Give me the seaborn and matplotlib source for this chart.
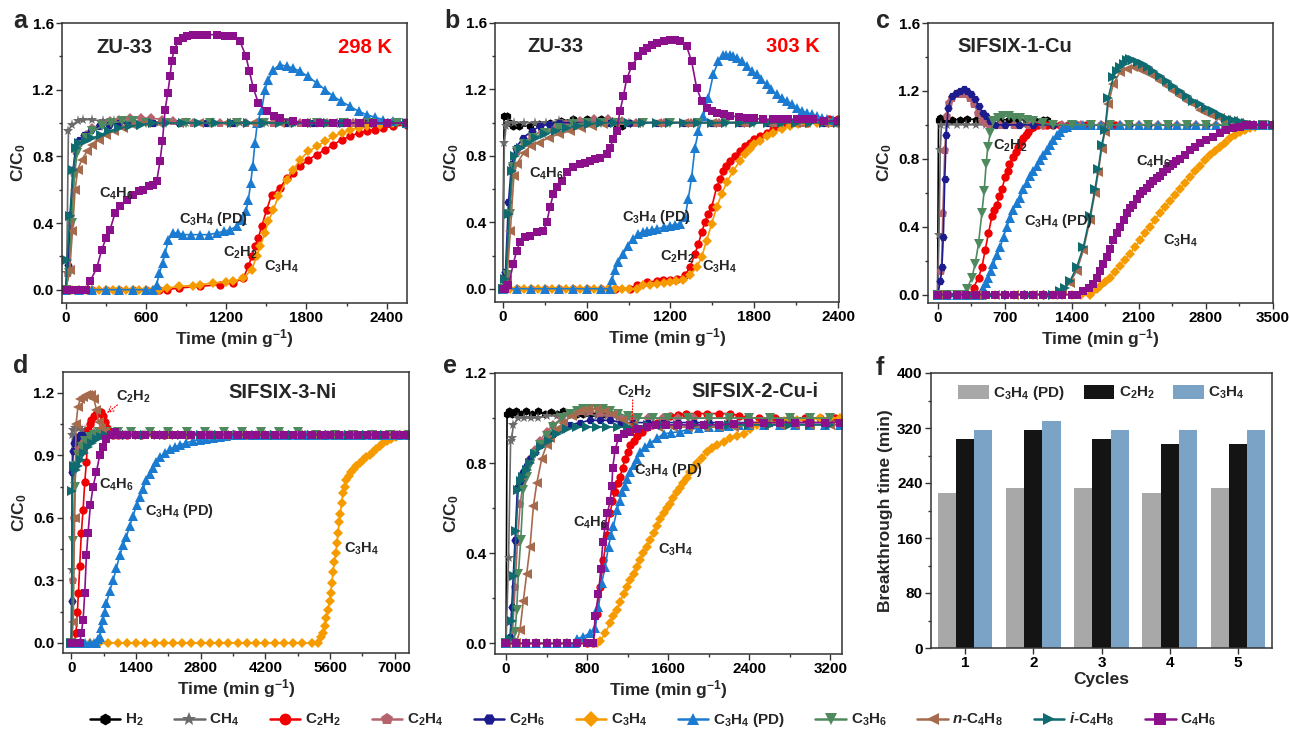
import numpy as np
import pandas as pd
import matplotlib
matplotlib.use('Agg')
import matplotlib.pyplot as plt
import seaborn as sns
from matplotlib.lines import Line2D
from matplotlib.ticker import MultipleLocator, FormatStrFormatter

# ---------------- DATA (time in min/g, C/C0) ----------------
# Panel a : ZU-33, 298 K
a_CH4 = [(0,0),(7,0.10),(20,0.95),(45,0.99),(90,1.01),(130,1.02),(200,1.02),(280,1.01),(360,1.01),(450,1.0),(550,1.0),(700,1.0),(900,1.0),(1100,1.0),(1300,1.0),(1500,1.0),(1700,1.0),(1900,1.0),(2100,1.0),(2300,1.0),(2500,1.0)]
a_C2H2 = [(0,0),(100,0),(200,0),(300,0),(400,0),(500,0),(600,0),(700,0),(755,0.0),(850,0.01),(1004,0.02),(1150,0.03),(1253,0.04),(1328,0.07),(1366,0.14),(1391,0.20),(1415,0.26),(1440,0.31),(1465,0.38),(1503,0.48),(1540,0.57),(1602,0.61),(1652,0.67),(1702,0.70),(1752,0.74),(1815,0.78),(1876,0.81),(1940,0.84),(2001,0.87),(2065,0.90),(2126,0.92),(2190,0.94),(2250,0.95),(2310,0.96),(2375,0.97),(2450,0.98),(2549,0.99)]
a_C2H4 = [(0,0),(20,0.10),(40,0.40),(60,0.70),(80,0.83),(100,0.88),(150,0.93),(200,0.97),(260,0.99),(330,1.01),(400,1.02),(480,1.03),(560,1.03),(640,1.03),(720,1.02),(800,1.01),(950,1.0),(1150,1.0),(1350,1.0),(1550,1.0),(1750,1.0),(1950,1.0),(2150,1.0),(2350,1.0),(2540,1.0)]
a_C2H6 = [(0,0),(15,0.15),(35,0.45),(55,0.72),(75,0.86),(100,0.90),(140,0.93),(190,0.96),(250,0.98),(320,0.99),(400,1.0),(500,1.0),(650,1.0),(850,1.0),(1050,1.0),(1250,1.0),(1450,1.0),(1650,1.0),(1850,1.0),(2050,1.0),(2250,1.0),(2450,1.0)]
a_C3H4 = [(0,0),(50,0),(100,0),(150,0),(200,0),(250,0),(300,0),(350,0),(400,0),(450,0),(500,0),(550,0),(600,0),(650,0),(700,0),(755,0.01),(850,0.02),(950,0.025),(1004,0.03),(1100,0.04),(1200,0.045),(1253,0.05),(1328,0.07),(1391,0.12),(1428,0.20),(1453,0.26),(1490,0.34),(1515,0.41),(1553,0.48),(1590,0.56),(1652,0.66),(1702,0.72),(1752,0.78),(1815,0.83),(1876,0.86),(1940,0.89),(2001,0.92),(2065,0.94),(2126,0.96),(2190,0.97),(2250,0.98),(2350,0.99),(2450,1.0),(2549,1.0)]
a_C3H4PD = [(0,0),(100,0),(200,0),(300,0),(400,0),(500,0),(600,0),(655,0.0),(680,0.03),(700,0.10),(725,0.16),(743,0.22),(768,0.30),(805,0.34),(840,0.34),(880,0.33),(940,0.33),(1004,0.33),(1070,0.33),(1129,0.34),(1180,0.35),(1229,0.36),(1278,0.38),(1316,0.42),(1348,0.47),(1366,0.54),(1383,0.64),(1398,0.74),(1415,0.88),(1433,1.00),(1465,1.08),(1490,1.20),(1515,1.26),(1553,1.32),(1602,1.35),(1652,1.34),(1700,1.33),(1752,1.31),(1810,1.28),(1876,1.24),(1940,1.20),(2001,1.16),(2060,1.13),(2126,1.10),(2190,1.07),(2250,1.05),(2310,1.035),(2375,1.02),(2450,1.01),(2549,1.0)]
a_C3H6 = [(0,0),(25,0.10),(45,0.40),(65,0.68),(85,0.82),(110,0.87),(150,0.91),(200,0.95),(270,0.98),(340,1.0),(420,1.01),(500,1.01),(600,1.0),(750,1.0),(900,1.0),(1080,1.0),(1280,1.0),(1480,1.0),(1680,1.0),(1880,1.0),(2080,1.0),(2280,1.0),(2480,1.0)]
a_nC4H8 = [(0,0),(30,0.12),(50,0.35),(70,0.60),(90,0.72),(120,0.78),(160,0.83),(200,0.87),(250,0.90),(300,0.93),(360,0.95),(430,0.97),(500,0.99),(600,1.0),(700,1.0),(850,1.0),(1000,1.0),(1200,1.0),(1400,1.0),(1600,1.0),(1800,1.0),(2000,1.0),(2200,1.0),(2400,1.0)]
a_iC4H8 = [(0,0),(10,0.18),(30,0.44),(55,0.72),(80,0.85),(100,0.88),(150,0.89),(200,0.91),(260,0.93),(320,0.95),(400,0.97),(480,0.98),(560,0.99),(650,1.0),(760,1.0),(880,1.0),(1000,1.0),(1120,1.0),(1240,1.0),(1360,1.0),(1480,1.0),(1600,1.0),(1720,1.0),(1840,1.0),(1960,1.0),(2080,1.0),(2200,1.0),(2320,1.0),(2440,1.0),(2550,1.0)]
a_C4H6 = [(0,0),(40,0),(80,0),(120,0),(150,0.0),(182,0.05),(232,0.13),(269,0.24),(302,0.31),(331,0.36),(369,0.46),(406,0.50),(456,0.54),(506,0.57),(545,0.59),(581,0.60),(620,0.62),(655,0.63),(680,0.65),(705,0.77),(723,0.89),(743,1.08),(763,1.18),(780,1.28),(792,1.37),(810,1.44),(842,1.49),(875,1.51),(905,1.52),(950,1.53),(1004,1.53),(1060,1.53),(1129,1.53),(1190,1.525),(1253,1.52),(1303,1.49),(1348,1.40),(1373,1.31),(1403,1.21),(1440,1.12),(1503,1.07),(1560,1.04),(1602,1.03),(1702,1.01),(1800,1.0),(1900,1.0),(2001,1.0),(2100,1.0),(2200,1.0),(2300,1.0),(2400,1.0),(2549,1.0)]

# Panel b : ZU-33, 303 K
b_H2 = [(0,0),(10,1.04),(29,1.04),(50,1.0),(76,0.98),(120,0.98),(195,0.98),(260,0.99),(340,1.0),(420,1.01),(500,1.02),(600,1.02),(700,1.02),(780,1.01),(815,0.98),(850,0.98),(910,1.0)]
b_CH4 = [(0,0),(12,0.88),(25,0.98),(40,1.0),(80,1.0),(150,1.0),(230,1.0),(310,1.0),(400,1.01),(500,1.01),(600,1.0),(700,1.0),(800,1.0),(900,1.0)]
b_C2H2 = [(0,0),(100,0),(200,0),(300,0),(400,0),(500,0),(600,0),(700,0),(800,0),(910,0.0),(958,0.02),(1029,0.04),(1100,0.045),(1149,0.05),(1200,0.055),(1244,0.06),(1304,0.08),(1339,0.13),(1375,0.21),(1399,0.27),(1423,0.34),(1446,0.40),(1470,0.45),(1494,0.49),(1530,0.61),(1555,0.66),(1578,0.71),(1600,0.74),(1625,0.77),(1660,0.80),(1697,0.83),(1730,0.86),(1768,0.88),(1800,0.90),(1840,0.92),(1890,0.94),(1935,0.96),(2000,0.98),(2054,0.99),(2110,1.0),(2173,1.0),(2250,1.01),(2330,1.02),(2400,1.02)]
b_C2H4 = [(0,0),(25,0.08),(45,0.45),(70,0.72),(100,0.83),(150,0.88),(210,0.92),(280,0.95),(360,0.97),(450,0.99),(550,1.01),(650,1.02),(750,1.02),(850,1.01),(950,1.0),(1150,1.0),(1350,1.0),(1550,1.0),(1750,1.0),(1950,1.0),(2150,1.0),(2350,1.0)]
b_C2H6 = [(0,0),(20,0.1),(41,0.52),(64,0.75),(95,0.85),(148,0.91),(210,0.95),(267,0.98),(330,0.99),(400,1.0),(500,1.0),(600,1.0),(750,1.0),(900,1.0),(1100,1.0),(1300,1.0),(1500,1.0),(1700,1.0),(1900,1.0),(2100,1.0),(2300,1.0),(2400,1.0)]
b_C3H4 = [(0,0),(50,0),(100,0),(150,0),(200,0),(250,0),(300,0),(350,0),(400,0),(450,0),(500,0),(550,0),(600,0),(650,0),(700,0),(750,0),(800,0),(850,0),(900,0),(958,0.0),(1006,0.02),(1050,0.025),(1101,0.03),(1150,0.035),(1196,0.04),(1240,0.045),(1292,0.05),(1339,0.08),(1387,0.13),(1423,0.19),(1458,0.29),(1494,0.39),(1530,0.49),(1566,0.57),(1601,0.64),(1649,0.71),(1697,0.77),(1730,0.81),(1768,0.84),(1800,0.87),(1840,0.89),(1890,0.92),(1935,0.94),(2000,0.96),(2054,0.98),(2110,0.99),(2173,1.0),(2250,1.0),(2330,1.0),(2400,1.0)]
b_C3H4PD = [(0,0),(100,0),(200,0),(300,0),(400,0),(500,0),(600,0),(700,0),(767,0.0),(779,0.05),(803,0.11),(827,0.16),(863,0.21),(898,0.26),(934,0.30),(970,0.33),(1000,0.34),(1029,0.35),(1065,0.355),(1101,0.36),(1150,0.37),(1196,0.38),(1235,0.385),(1268,0.39),(1304,0.43),(1327,0.54),(1351,0.67),(1375,0.85),(1400,0.95),(1435,1.04),(1470,1.15),(1506,1.29),(1542,1.37),(1578,1.41),(1600,1.41),(1625,1.41),(1650,1.40),(1673,1.39),(1710,1.37),(1744,1.34),(1780,1.31),(1816,1.29),(1850,1.26),(1887,1.23),(1920,1.20),(1959,1.17),(1995,1.15),(2030,1.13),(2066,1.11),(2102,1.09),(2140,1.07),(2173,1.06),(2210,1.05),(2245,1.04),(2280,1.03),(2316,1.02),(2360,1.015),(2400,1.01)]
b_C3H6 = [(0,0),(30,0.08),(50,0.45),(75,0.73),(105,0.83),(150,0.87),(220,0.91),(300,0.94),(400,0.97),(500,0.99),(600,1.0),(700,1.0),(820,1.0),(1000,1.0),(1200,1.0),(1400,1.0),(1600,1.0),(1800,1.0),(2000,1.0),(2200,1.0),(2390,1.0)]
b_nC4H8 = [(0,0),(30,0.05),(55,0.35),(80,0.68),(100,0.75),(150,0.82),(200,0.86),(260,0.88),(330,0.91),(400,0.93),(480,0.95),(560,0.97),(640,0.98),(720,0.99),(800,1.0),(950,1.0),(1100,1.0),(1300,1.0),(1500,1.0),(1700,1.0),(1900,1.0),(2100,1.0),(2300,1.0)]
b_iC4H8 = [(0,0),(20,0.06),(45,0.45),(65,0.71),(90,0.80),(130,0.85),(180,0.88),(240,0.91),(300,0.93),(380,0.95),(460,0.97),(540,0.98),(620,0.99),(700,1.0),(800,1.0),(900,1.0),(1000,1.0),(1100,1.0),(1200,1.0),(1300,1.0),(1400,1.0),(1500,1.0),(1600,1.0),(1700,1.0),(1800,1.0),(1900,1.0),(2000,1.0),(2100,1.0),(2200,1.0),(2300,1.0),(2400,1.0)]
b_C4H6 = [(0,0),(20,0.0),(41,0.02),(76,0.15),(100,0.23),(124,0.28),(160,0.31),(195,0.32),(243,0.34),(291,0.35),(315,0.40),(338,0.49),(362,0.57),(386,0.61),(422,0.65),(458,0.70),(505,0.73),(553,0.75),(590,0.76),(624,0.77),(660,0.78),(696,0.79),(744,0.81),(767,0.85),(791,0.90),(815,0.95),(839,1.07),(863,1.16),(886,1.26),(922,1.34),(970,1.40),(1000,1.43),(1029,1.45),(1065,1.47),(1101,1.48),(1150,1.49),(1196,1.50),(1235,1.495),(1268,1.49),(1315,1.46),(1351,1.37),(1387,1.21),(1423,1.13),(1458,1.09),(1495,1.07),(1530,1.06),(1580,1.05),(1625,1.04),(1690,1.035),(1744,1.03),(1800,1.025),(1864,1.02),(1930,1.02),(1983,1.02),(2040,1.02),(2102,1.02),(2160,1.02),(2221,1.02),(2300,1.01),(2400,1.01)]

# Panel c : SIFSIX-1-Cu
c_H2 = [(0,0),(10,1.03),(30,1.04),(80,1.03),(150,1.03),(230,1.03),(310,1.035),(400,1.03),(480,1.03),(560,1.03),(650,1.03),(740,1.03),(830,1.03),(920,1.03),(1010,1.03),(1100,1.03),(1140,1.03)]
c_CH4 = [(0,0),(15,0.35),(28,0.85),(40,1.0),(100,1.0),(200,1.0),(300,1.0),(400,1.0),(500,1.0),(600,1.0),(700,1.0),(800,1.0),(900,1.0),(1000,1.0),(1100,1.0),(1200,1.0)]
c_C2H2 = [(0,0),(100,0),(200,0),(300,0),(340,0.0),(375,0.04),(427,0.10),(462,0.16),(496,0.26),(531,0.36),(566,0.46),(592,0.50),(618,0.53),(645,0.58),(670,0.62),(705,0.69),(730,0.73),(750,0.77),(792,0.81),(820,0.84),(844,0.87),(870,0.90),(896,0.92),(920,0.94),(948,0.96),(975,0.98),(1000,0.99),(1050,1.0),(1100,1.0),(1139,1.0),(1200,1.0),(1280,1.0),(1360,1.0),(1450,1.0),(1550,1.0),(1700,1.0),(1850,1.0),(2000,1.0),(2200,1.0),(2400,1.0),(2600,1.0),(2800,1.0),(3000,1.0),(3200,1.0),(3500,1.0)]
c_C2H4 = [(0,0),(40,0.14),(55,0.48),(75,0.85),(95,1.05),(120,1.13),(150,1.16),(200,1.18),(250,1.18),(300,1.18),(340,1.16),(380,1.12),(420,1.07),(460,1.03),(500,1.01),(550,1.0),(650,1.0),(800,1.0),(950,1.0),(1100,1.0),(1300,1.0),(1500,1.0),(1700,1.0),(1900,1.0),(2100,1.0),(2300,1.0),(2500,1.0),(2700,1.0),(2900,1.0),(3100,1.0),(3300,1.0),(3500,1.0)]
c_C2H6 = [(0,0),(30,0.08),(45,0.16),(60,0.34),(75,0.68),(90,0.94),(110,1.10),(150,1.17),(190,1.19),(230,1.20),(271,1.21),(310,1.20),(350,1.18),(390,1.15),(430,1.11),(470,1.07),(500,1.05),(550,1.02),(600,1.0),(700,1.0),(850,1.0),(1000,1.0),(1200,1.0),(1400,1.0),(1600,1.0),(1800,1.0),(2000,1.0),(2200,1.0),(2400,1.0),(2600,1.0),(2800,1.0),(3000,1.0),(3200,1.0),(3400,1.0)]
c_C3H4 = [(0,0),(100,0),(200,0),(300,0),(400,0),(500,0),(600,0),(700,0),(800,0),(900,0),(1000,0),(1100,0),(1200,0),(1300,0),(1400,0),(1500,0),(1590,0.0),(1625,0.02),(1660,0.035),(1694,0.05),(1745,0.075),(1798,0.10),(1850,0.135),(1903,0.17),(1955,0.205),(2007,0.24),(2060,0.28),(2111,0.32),(2163,0.36),(2215,0.40),(2267,0.44),(2319,0.48),(2372,0.515),(2424,0.55),(2476,0.585),(2528,0.62),(2580,0.655),(2632,0.69),(2684,0.725),(2736,0.76),(2788,0.79),(2840,0.82),(2892,0.845),(2944,0.87),(2996,0.895),(3048,0.92),(3100,0.94),(3152,0.96),(3205,0.97),(3257,0.98),(3310,0.99),(3361,1.0),(3430,1.0),(3500,1.0)]
c_C3H4PD = [(0,0),(100,0),(200,0),(300,0),(400,0),(444,0.0),(479,0.04),(505,0.07),(531,0.10),(557,0.14),(583,0.18),(618,0.23),(653,0.28),(688,0.34),(722,0.40),(757,0.45),(792,0.50),(826,0.54),(861,0.57),(896,0.62),(930,0.66),(965,0.70),(1000,0.73),(1035,0.76),(1069,0.79),(1104,0.82),(1139,0.85),(1174,0.88),(1208,0.91),(1243,0.94),(1278,0.96),(1312,0.98),(1347,0.99),(1400,1.0),(1451,1.0),(1520,1.0),(1600,1.0),(1700,1.0),(1800,1.0),(1900,1.0),(2000,1.0),(2100,1.0),(2200,1.0),(2300,1.0),(2400,1.0),(2500,1.0),(2600,1.0),(2700,1.0),(2800,1.0),(2900,1.0),(3000,1.0),(3100,1.0),(3200,1.0),(3300,1.0),(3400,1.0),(3500,1.0)]
c_C3H6 = [(0,0),(100,0),(200,0),(271,0.0),(305,0.03),(358,0.10),(392,0.18),(427,0.30),(462,0.48),(486,0.61),(507,0.77),(524,0.87),(549,0.95),(583,1.02),(630,1.04),(687,1.05),(740,1.05),(800,1.04),(861,1.04),(930,1.03),(1000,1.02),(1100,1.01),(1200,1.0),(1400,1.0),(1600,1.0),(1800,1.0),(2000,1.0),(2200,1.0),(2400,1.0),(2600,1.0),(2800,1.0),(3000,1.0),(3200,1.0),(3400,1.0)]
c_nC4H8 = [(0,0),(200,0),(400,0),(600,0),(800,0),(1000,0),(1200,0),(1250,0.01),(1300,0.02),(1382,0.07),(1451,0.14),(1521,0.26),(1590,0.44),(1642,0.60),(1677,0.72),(1712,0.86),(1746,0.96),(1781,1.12),(1833,1.24),(1903,1.31),(1972,1.33),(2042,1.34),(2100,1.33),(2146,1.32),(2200,1.31),(2250,1.29),(2320,1.26),(2389,1.23),(2460,1.20),(2528,1.17),(2600,1.14),(2667,1.12),(2740,1.09),(2805,1.07),(2870,1.05),(2944,1.04),(3010,1.03),(3083,1.02),(3150,1.01),(3222,1.0),(3350,1.0),(3500,1.0)]
c_iC4H8 = [(0,0),(150,0),(350,0),(550,0),(750,0),(950,0),(1150,0),(1208,0.0),(1278,0.02),(1330,0.04),(1382,0.08),(1451,0.16),(1521,0.28),(1590,0.46),(1642,0.62),(1677,0.74),(1712,0.88),(1746,0.97),(1781,1.16),(1833,1.28),(1870,1.32),(1903,1.34),(1940,1.36),(1972,1.38),(2010,1.385),(2042,1.38),(2090,1.37),(2146,1.36),(2200,1.34),(2250,1.32),(2320,1.29),(2389,1.26),(2460,1.23),(2528,1.20),(2600,1.17),(2667,1.14),(2740,1.12),(2805,1.10),(2870,1.08),(2944,1.06),(3010,1.04),(3083,1.03),(3150,1.02),(3222,1.01),(3300,1.0),(3400,1.0),(3500,1.0)]
c_C4H6 = [(0,0),(100,0),(200,0),(300,0),(400,0),(500,0),(600,0),(700,0),(800,0),(900,0),(1000,0),(1100,0),(1200,0),(1300,0),(1400,0),(1451,0.0),(1521,0.02),(1575,0.04),(1625,0.06),(1660,0.10),(1694,0.14),(1730,0.18),(1764,0.22),(1800,0.27),(1833,0.32),(1870,0.36),(1903,0.40),(1940,0.44),(1972,0.48),(2007,0.51),(2042,0.53),(2076,0.56),(2111,0.59),(2145,0.61),(2180,0.63),(2215,0.65),(2250,0.67),(2285,0.685),(2319,0.70),(2354,0.72),(2389,0.74),(2424,0.755),(2458,0.77),(2493,0.785),(2528,0.80),(2580,0.825),(2632,0.85),(2684,0.87),(2736,0.89),(2805,0.91),(2875,0.93),(2944,0.95),(3014,0.97),(3083,0.98),(3152,0.99),(3220,1.0),(3291,1.0),(3400,1.0),(3500,1.0)]

# Panel d : SIFSIX-3-Ni
d_CH4 = [(0,0),(10,0.35),(20,1.0),(40,1.02),(80,1.03),(120,1.03),(170,1.03),(230,1.02),(300,1.02),(400,1.01),(500,1.01),(650,1.0),(900,1.0),(1200,1.0),(1600,1.0),(2000,1.0),(2500,1.0),(3000,1.0),(3500,1.0),(4000,1.0),(4500,1.0),(5000,1.0),(5500,1.0),(6000,1.0),(6500,1.0),(7000,1.0),(7300,1.0)]
d_C2H2 = [(0,0),(60,0.0),(100,0.05),(130,0.15),(152,0.24),(180,0.37),(216,0.53),(253,0.64),(289,0.77),(325,0.87),(361,1.02),(400,1.05),(433,1.07),(480,1.09),(541,1.10),(600,1.11),(649,1.11),(690,1.09),(722,1.06),(780,1.03),(830,1.01),(900,1.0),(1000,1.0),(1200,1.0),(1500,1.0),(2000,1.0),(2500,1.0),(3000,1.0),(3500,1.0),(4000,1.0),(4500,1.0),(5000,1.0),(5500,1.0),(6000,1.0),(6500,1.0),(7000,1.0),(7300,1.0)]
d_C2H4 = [(0,0),(30,0.30),(60,0.60),(90,0.85),(130,0.92),(180,0.95),(250,0.97),(330,0.98),(420,0.99),(520,1.0),(650,1.0),(850,1.0),(1150,1.0),(1550,1.0),(2050,1.0),(2550,1.0),(3050,1.0),(3550,1.0),(4050,1.0),(4550,1.0),(5050,1.0),(5550,1.0),(6050,1.0),(6550,1.0),(7050,1.0),(7300,1.0)]
d_C2H6 = [(0,0),(10,0.2),(20,0.82),(40,0.92),(60,0.96),(90,0.98),(130,0.99),(180,1.0),(260,1.0),(350,1.0),(450,1.0),(600,1.0),(800,1.0),(1100,1.0),(1500,1.0),(2000,1.0),(2600,1.0),(3200,1.0),(3800,1.0),(4400,1.0),(5000,1.0),(5600,1.0),(6200,1.0),(6800,1.0),(7300,1.0)]
d_C3H4 = [(0,0),(200,0),(400,0),(600,0),(800,0),(1000,0),(1200,0),(1400,0),(1600,0),(1800,0),(2000,0),(2200,0),(2400,0),(2600,0),(2800,0),(3000,0),(3200,0),(3400,0),(3600,0),(3800,0),(4000,0),(4200,0),(4400,0),(4600,0),(4800,0),(5000,0),(5200,0),(5340,0.0),(5412,0.03),(5450,0.05),(5484,0.08),(5520,0.12),(5557,0.16),(5590,0.20),(5614,0.24),(5640,0.29),(5665,0.34),(5695,0.39),(5722,0.43),(5750,0.48),(5773,0.53),(5800,0.58),(5823,0.62),(5850,0.67),(5881,0.72),(5915,0.75),(5953,0.78),(6000,0.80),(6061,0.82),(6115,0.835),(6169,0.85),(6240,0.865),(6314,0.88),(6385,0.89),(6458,0.90),(6530,0.915),(6602,0.93),(6675,0.945),(6747,0.96),(6840,0.97),(6927,0.98),(7020,0.99),(7108,1.0),(7200,1.0),(7300,1.0)]
d_C3H4PD = [(0,0),(100,0),(200,0),(300,0),(400,0),(500,0),(541,0.0),(580,0.02),(613,0.03),(650,0.07),(685,0.11),(720,0.15),(758,0.19),(830,0.25),(902,0.30),(975,0.36),(1046,0.42),(1120,0.47),(1191,0.51),(1260,0.56),(1335,0.61),(1410,0.66),(1479,0.70),(1550,0.74),(1624,0.78),(1700,0.81),(1768,0.84),(1840,0.87),(1912,0.89),(2020,0.91),(2129,0.93),(2240,0.94),(2345,0.95),(2490,0.96),(2634,0.97),(2780,0.975),(2922,0.98),(3066,0.985),(3211,0.99),(3350,0.995),(3500,1.0),(3700,1.0),(3900,1.0),(4100,1.0),(4300,1.0),(4500,1.0),(4700,1.0),(4900,1.0),(5100,1.0),(5300,1.0),(5500,1.0),(5700,1.0),(5900,1.0),(6100,1.0),(6300,1.0),(6500,1.0),(6700,1.0),(6900,1.0),(7100,1.0),(7300,1.0)]
d_C3H6 = [(0,0),(40,0.49),(70,0.75),(100,0.85),(150,0.90),(220,0.94),(300,0.97),(400,0.99),(500,1.0),(600,1.01),(750,1.01),(1000,1.01),(1300,1.01),(1700,1.01),(2100,1.01),(2500,1.01),(2900,1.01),(3300,1.01),(3700,1.01),(4100,1.01),(4500,1.01),(4900,1.01),(5300,1.0),(5700,1.0),(6100,1.0),(6500,1.0),(6900,1.0),(7300,1.0)]
d_nC4H8 = [(0,0),(40,0.10),(70,0.60),(100,1.05),(140,1.13),(190,1.17),(250,1.18),(310,1.19),(370,1.19),(430,1.19),(490,1.17),(540,1.12),(590,1.06),(640,1.03),(700,1.01),(800,1.0),(1000,1.0),(1300,1.0),(1700,1.0),(2100,1.0),(2500,1.0),(2900,1.0),(3300,1.0),(3700,1.0),(4100,1.0),(4500,1.0),(4900,1.0),(5300,1.0),(5700,1.0),(6100,1.0),(6500,1.0),(6900,1.0),(7300,1.0)]
d_iC4H8 = [(0,0),(20,0.73),(50,0.85),(100,0.83),(150,0.85),(200,0.88),(280,0.91),(360,0.94),(450,0.96),(550,0.98),(650,0.99),(750,1.0),(900,1.0),(1200,1.0),(1600,1.0),(2000,1.0),(2400,1.0),(2800,1.0),(3200,1.0),(3600,1.0),(4000,1.0),(4400,1.0),(4800,1.0),(5200,1.0),(5600,1.0),(6000,1.0),(6400,1.0),(6800,1.0),(7200,1.0)]
d_C4H6 = [(0,0),(100,0),(180,0.0),(216,0.05),(253,0.11),(289,0.24),(325,0.42),(361,0.53),(411,0.66),(469,0.75),(541,0.82),(613,0.90),(685,0.94),(758,0.98),(866,1.0),(950,1.01),(1050,1.0),(1200,1.0),(1400,1.0),(1600,1.0),(1800,1.0),(2000,1.0),(2200,1.0),(2400,1.0),(2600,1.0),(2800,1.0),(3000,1.0),(3200,1.0),(3400,1.0),(3600,1.0),(3800,1.0),(4000,1.0),(4200,1.0),(4400,1.0),(4600,1.0),(4800,1.0),(5000,1.0),(5200,1.0),(5400,1.0),(5600,1.0),(5800,1.0),(6000,1.0),(6200,1.0),(6400,1.0),(6600,1.0),(6800,1.0),(7000,1.0),(7200,1.0),(7300,1.0)]

# Panel e : SIFSIX-2-Cu-i
e_H2 = [(0,0),(10,1.02),(30,1.03),(60,1.02),(100,1.03),(150,1.02),(200,1.03),(260,1.02),(320,1.03),(380,1.02),(440,1.025),(500,1.02),(566,1.03),(630,1.02),(700,1.02),(760,1.02),(830,1.02),(900,1.02),(960,1.02),(1030,1.02),(1093,1.02)]
e_CH4 = [(0,0),(25,0.38),(45,0.90),(56,0.91),(72,0.97),(122,1.0),(180,1.0),(250,1.0),(320,1.0),(400,1.01),(500,1.01),(600,1.02),(700,1.02),(800,1.02),(900,1.01),(1000,1.01),(1100,1.0),(1200,1.0)]
e_C2H2 = [(0,0),(100,0),(200,0),(300,0),(400,0),(500,0),(600,0),(700,0),(800,0),(862,0.0),(895,0.13),(928,0.25),(961,0.37),(994,0.48),(1027,0.58),(1050,0.63),(1076,0.67),(1100,0.71),(1126,0.74),(1150,0.78),(1175,0.82),(1200,0.85),(1225,0.88),(1258,0.90),(1291,0.92),(1340,0.94),(1389,0.96),(1440,0.97),(1488,0.98),(1550,1.0),(1620,1.01),(1700,1.015),(1780,1.02),(1883,1.02),(1980,1.02),(2100,1.02),(2212,1.02),(2300,1.01),(2377,1.0),(2500,1.0),(2650,1.0),(2800,1.0),(2950,1.0),(3100,1.0),(3250,1.0)]
e_C2H4 = [(0,0),(60,0.02),(90,0.25),(112,0.45),(140,0.62),(171,0.72),(205,0.78),(237,0.82),(285,0.86),(336,0.90),(400,0.94),(467,0.97),(550,1.0),(632,1.02),(730,1.03),(830,1.03),(930,1.02),(1030,1.01),(1130,1.0),(1250,1.0),(1400,1.0),(1550,1.0),(1700,1.0),(1850,1.0),(2000,1.0),(2200,1.0),(2400,1.0),(2600,1.0),(2800,1.0),(3000,1.0),(3200,1.0)]
e_C2H6 = [(0,0),(40,0.03),(56,0.16),(89,0.46),(112,0.69),(140,0.72),(171,0.76),(205,0.79),(237,0.82),(285,0.85),(336,0.88),(400,0.91),(467,0.93),(550,0.95),(632,0.97),(730,0.98),(830,0.99),(930,0.99),(1030,0.99),(1130,0.98),(1250,0.98),(1400,0.98),(1550,0.98),(1700,0.98),(1850,0.98),(2000,0.98),(2200,0.98),(2400,0.98),(2600,0.98),(2800,0.98),(3000,0.98),(3200,0.98)]
e_C3H4 = [(0,0),(100,0),(200,0),(300,0),(400,0),(500,0),(600,0),(700,0),(800,0),(895,0.0),(928,0.01),(978,0.045),(1027,0.09),(1060,0.12),(1093,0.15),(1126,0.185),(1159,0.22),(1192,0.25),(1225,0.28),(1258,0.31),(1291,0.34),(1323,0.37),(1356,0.40),(1389,0.43),(1422,0.46),(1455,0.49),(1488,0.52),(1520,0.55),(1554,0.58),(1587,0.60),(1620,0.62),(1652,0.645),(1685,0.67),(1718,0.69),(1751,0.71),(1784,0.735),(1817,0.76),(1850,0.78),(1883,0.80),(1932,0.825),(1982,0.85),(2030,0.865),(2081,0.88),(2146,0.895),(2212,0.91),(2278,0.92),(2344,0.93),(2410,0.95),(2475,0.97),(2540,0.975),(2607,0.98),(2740,0.985),(2870,0.99),(3000,0.995),(3100,1.0),(3200,1.0),(3300,1.0)]
e_C3H4PD = [(0,0),(100,0),(200,0),(300,0),(400,0),(500,0),(600,0),(680,0.0),(698,0.02),(760,0.03),(830,0.045),(879,0.07),(912,0.16),(945,0.27),(978,0.34),(1011,0.43),(1035,0.48),(1060,0.52),(1093,0.59),(1120,0.63),(1142,0.67),(1170,0.70),(1192,0.73),(1225,0.76),(1258,0.79),(1290,0.82),(1323,0.85),(1370,0.87),(1422,0.89),(1490,0.91),(1554,0.93),(1630,0.935),(1718,0.94),(1800,0.95),(1900,0.955),(2000,0.96),(2100,0.96),(2200,0.965),(2300,0.97),(2400,0.97),(2550,0.97),(2700,0.97),(2850,0.97),(3000,0.97),(3150,0.97),(3300,0.97)]
e_C3H6 = [(0,0),(70,0.0),(89,0.05),(105,0.15),(122,0.31),(145,0.46),(171,0.68),(205,0.74),(237,0.79),(285,0.84),(336,0.88),(400,0.92),(467,0.96),(550,1.0),(632,1.02),(700,1.03),(764,1.04),(830,1.04),(895,1.04),(960,1.04),(1030,1.03),(1100,1.02),(1200,1.01),(1300,1.0),(1450,1.0),(1600,1.0),(1800,1.0),(2000,1.0),(2200,1.0),(2400,1.0),(2600,1.0),(2800,1.0),(3000,1.0),(3200,1.0)]
e_nC4H8 = [(0,0),(100,0.0),(138,0.06),(171,0.19),(204,0.31),(237,0.43),(270,0.61),(303,0.71),(352,0.82),(400,0.88),(435,0.91),(500,0.95),(566,0.98),(650,1.01),(731,1.03),(810,1.04),(895,1.04),(980,1.03),(1060,1.02),(1150,0.99),(1250,0.97),(1350,0.96),(1500,0.96),(1650,0.96),(1800,0.96),(1950,0.96),(2100,0.96),(2250,0.96),(2400,0.97),(2550,0.97),(2700,0.97),(2850,0.97),(3000,0.97),(3200,0.97)]
e_iC4H8 = [(0,0),(40,0.02),(60,0.10),(80,0.30),(100,0.50),(120,0.68),(145,0.72),(170,0.74),(205,0.77),(240,0.80),(290,0.84),(340,0.87),(420,0.90),(500,0.93),(600,0.95),(700,0.96),(800,0.96),(900,0.96),(1000,0.96),(1100,0.96),(1200,0.96),(1300,0.96),(1400,0.97),(1550,0.97),(1700,0.97),(1850,0.97),(2000,0.97),(2200,0.97),(2400,0.97),(2600,0.97),(2800,0.97),(3000,0.97),(3200,0.97)]
e_C4H6 = [(0,0),(100,0),(200,0),(300,0),(400,0),(500,0),(600,0),(700,0),(800,0),(862,0.0),(879,0.12),(912,0.22),(935,0.33),(955,0.45),(978,0.52),(1000,0.58),(1027,0.63),(1044,0.70),(1053,0.78),(1076,0.86),(1109,0.91),(1159,0.93),(1225,0.94),(1300,0.95),(1389,0.96),(1480,0.97),(1580,0.97),(1700,0.97),(1820,0.97),(1950,0.97),(2100,0.97),(2250,0.975),(2400,0.98),(2550,0.98),(2700,0.98),(2850,0.98),(3000,0.98),(3150,0.98),(3300,0.98)]

# Panel f : cycling breakthrough times (min)
cycles = ['1', '2', '3', '4', '5']
bt_C3H4PD = [226, 233, 233, 226, 233]
bt_C2H2 = [304, 317, 304, 297, 297]
bt_C3H4 = [317, 330, 317, 317, 317]

# ---------------- STYLE ----------------
sns.set_style('ticks')
plt.rcParams.update({
    'font.family': ['Liberation Sans', 'DejaVu Sans'],
    'font.weight': 'bold',
    'axes.labelweight': 'bold',
    'mathtext.fontset': 'custom',
    'mathtext.rm': 'Liberation Sans:bold',
    'mathtext.bf': 'Liberation Sans:bold',
    'mathtext.it': 'Liberation Sans:italic:bold',
    'mathtext.default': 'bf',
    'axes.edgecolor': '#333333',
    'xtick.color': '#333333',
    'ytick.color': '#333333',
    'xtick.labelcolor': 'black',
    'ytick.labelcolor': 'black',
})

gases = ['H2', 'CH4', 'C2H2', 'C2H4', 'C2H6', 'C3H4', 'C3H4PD', 'C3H6', 'nC4H8', 'iC4H8', 'C4H6']
colors = {'H2': '#000000', 'CH4': '#6b6b6b', 'C2H2': '#f00000', 'C2H4': '#b5646e',
          'C2H6': '#1c1c8f', 'C3H4': '#f59b00', 'C3H4PD': '#1a7bd0', 'C3H6': '#4f8a5f',
          'nC4H8': '#a66a4c', 'iC4H8': '#0f6b70', 'C4H6': '#8c0f8c'}
markers = {'H2': 'h', 'CH4': '*', 'C2H2': 'o', 'C2H4': 'p', 'C2H6': 'H', 'C3H4': 'D',
           'C3H4PD': '^', 'C3H6': 'v', 'nC4H8': '<', 'iC4H8': '>', 'C4H6': 's'}
msizes = {'H2': 6, 'CH4': 8, 'C2H2': 6, 'C2H4': 6.5, 'C2H6': 6, 'C3H4': 5.2,
          'C3H4PD': 6.5, 'C3H6': 6.5, 'nC4H8': 6.5, 'iC4H8': 6.5, 'C4H6': 5.5}
labels = {'H2': 'H$_2$', 'CH4': 'CH$_4$', 'C2H2': 'C$_2$H$_2$', 'C2H4': 'C$_2$H$_4$',
          'C2H6': 'C$_2$H$_6$', 'C3H4': 'C$_3$H$_4$', 'C3H4PD': 'C$_3$H$_4$ (PD)',
          'C3H6': 'C$_3$H$_6$', 'nC4H8': r'$\mathit{n}$-C$_4$H$_8$',
          'iC4H8': r'$\mathit{i}$-C$_4$H$_8$', 'C4H6': 'C$_4$H$_6$'}

W, H = 1290, 735
fig = plt.figure(figsize=(W / 100, H / 100), dpi=100)


def add_ax(l, t, r, b):
    return fig.add_axes([l / W, 1 - b / H, (r - l) / W, (b - t) / H])


def draw_panel(ax, series):
    for g in gases:
        if g not in series:
            continue
        pts = series[g]
        t = [p[0] for p in pts]
        y = [p[1] for p in pts]
        sns.lineplot(x=t, y=y, ax=ax, color=colors[g], marker=markers[g],
                     markersize=msizes[g], markeredgewidth=0, linewidth=1.2,
                     estimator=None, sort=False, legend=False)


def style(ax, xlim, ylim, xmaj, xmin, ymaj, ymin, yfmt='%.1f', xlabel='Time (min g$^{-1}$)', ylabel='C/C$_0$'):
    ax.set_xlim(*xlim)
    ax.set_ylim(*ylim)
    ax.xaxis.set_major_locator(MultipleLocator(xmaj))
    ax.xaxis.set_minor_locator(MultipleLocator(xmin))
    ax.yaxis.set_major_locator(MultipleLocator(ymaj))
    ax.yaxis.set_minor_locator(MultipleLocator(ymin))
    ax.yaxis.set_major_formatter(FormatStrFormatter(yfmt))
    ax.tick_params(which='both', direction='out', top=False, right=False, labelsize=11, width=1)
    ax.tick_params(which='major', length=4, pad=2)
    ax.tick_params(which='minor', length=2.5)
    for s in ax.spines.values():
        s.set_visible(True)
        s.set_linewidth(1.1)
    ax.set_xlabel(xlabel, fontsize=12.5, labelpad=1)
    ax.set_ylabel(ylabel, fontsize=12.5, labelpad=3)


tkw = dict(fontsize=10.5, fontweight='bold', va='center', ha='left')

# ---- a ----
axa = add_ax(62, 23, 407, 303)
draw_panel(axa, {'CH4': a_CH4, 'C2H2': a_C2H2, 'C2H4': a_C2H4, 'C2H6': a_C2H6, 'C3H4': a_C3H4,
                 'C3H4PD': a_C3H4PD, 'C3H6': a_C3H6, 'nC4H8': a_nC4H8, 'iC4H8': a_iC4H8, 'C4H6': a_C4H6})
style(axa, (-28, 2552), (-0.08, 1.6), 600, 300, 0.4, 0.2)
axa.text(232, 1.456, 'ZU-33', fontsize=14.5, fontweight='bold', va='center')
axa.text(2038, 1.456, '298 K', fontsize=14.5, fontweight='bold', va='center', color='#ff0000')
axa.text(249, 0.573, 'C$_4$H$_6$', **tkw)
axa.text(847, 0.423, 'C$_3$H$_4$ (PD)', **tkw)
axa.text(1174, 0.219, 'C$_2$H$_2$', **tkw)
axa.text(1483, 0.14, 'C$_3$H$_4$', **tkw)

# ---- b ----
axb = add_ax(495, 23, 839, 302)
draw_panel(axb, {'H2': b_H2, 'CH4': b_CH4, 'C2H2': b_C2H2, 'C2H4': b_C2H4, 'C2H6': b_C2H6, 'C3H4': b_C3H4,
                 'C3H4PD': b_C3H4PD, 'C3H6': b_C3H6, 'nC4H8': b_nC4H8, 'iC4H8': b_iC4H8, 'C4H6': b_C4H6})
style(axb, (-55, 2405), (-0.08, 1.6), 600, 300, 0.4, 0.2)
axb.text(176, 1.456, 'ZU-33', fontsize=14.5, fontweight='bold', va='center')
axb.text(1883, 1.456, '303 K', fontsize=14.5, fontweight='bold', va='center', color='#ff0000')
axb.text(191, 0.694, 'C$_4$H$_6$', **tkw)
axb.text(851, 0.433, 'C$_3$H$_4$ (PD)', **tkw)
axb.text(1125, 0.19, 'C$_2$H$_2$', **tkw)
axb.text(1423, 0.13, 'C$_3$H$_4$', **tkw)

# ---- c ----
axc = add_ax(928, 23, 1273, 303)
draw_panel(axc, {'H2': c_H2, 'CH4': c_CH4, 'C2H2': c_C2H2, 'C2H4': c_C2H4, 'C2H6': c_C2H6, 'C3H4': c_C3H4,
                 'C3H4PD': c_C3H4PD, 'C3H6': c_C3H6, 'nC4H8': c_nC4H8, 'iC4H8': c_iC4H8, 'C4H6': c_C4H6})
style(axc, (-100, 3500), (-0.05, 1.6), 700, 350, 0.4, 0.2)
axc.text(208, 1.459, 'SIFSIX-1-Cu', fontsize=14.5, fontweight='bold', va='center')
axc.text(576, 0.875, 'C$_2$H$_2$', **tkw)
axc.text(903, 0.436, 'C$_3$H$_4$ (PD)', **tkw)
axc.text(2075, 0.78, 'C$_4$H$_6$', **tkw)
axc.text(2347, 0.318, 'C$_3$H$_4$', **tkw)

# ---- d ----
axd = add_ax(63, 372, 409, 653)
draw_panel(axd, {'CH4': d_CH4, 'C2H2': d_C2H2, 'C2H4': d_C2H4, 'C2H6': d_C2H6, 'C3H4': d_C3H4,
                 'C3H4PD': d_C3H4PD, 'C3H6': d_C3H6, 'nC4H8': d_nC4H8, 'iC4H8': d_iC4H8, 'C4H6': d_C4H6})
style(axd, (-182, 7310), (-0.048, 1.30), 1400, 700, 0.3, 0.15)
axd.text(3392, 1.2, 'SIFSIX-3-Ni', fontsize=14.5, fontweight='bold', va='center')
axd.text(960, 1.18, 'C$_2$H$_2$', **tkw)
axd.annotate('', xy=(722, 1.096), xytext=(1046, 1.15),
             arrowprops=dict(arrowstyle='->', color='red', linestyle=':', lw=0.8))
axd.text(592, 0.76, 'C$_4$H$_6$', **tkw)
axd.text(1588, 0.632, 'C$_3$H$_4$ (PD)', **tkw)
axd.text(5903, 0.451, 'C$_3$H$_4$', **tkw)

# ---- e ----
axe = add_ax(495, 373, 842, 654)
draw_panel(axe, {'H2': e_H2, 'CH4': e_CH4, 'C2H2': e_C2H2, 'C2H4': e_C2H4, 'C2H6': e_C2H6, 'C3H4': e_C3H4,
                 'C3H4PD': e_C3H4PD, 'C3H6': e_C3H6, 'nC4H8': e_nC4H8, 'iC4H8': e_iC4H8, 'C4H6': e_C4H6})
style(axe, (-109, 3315), (-0.047, 1.2), 800, 400, 0.4, 0.2)
axe.text(1824, 1.118, 'SIFSIX-2-Cu-i', fontsize=14.5, fontweight='bold', va='center')
axe.text(1093, 1.118, 'C$_2$H$_2$', **tkw)
axe.annotate('', xy=(1241, 0.915), xytext=(1251, 1.093),
             arrowprops=dict(arrowstyle='-', color='red', linestyle=':', lw=0.8))
axe.text(1264, 0.769, 'C$_3$H$_4$ (PD)', **tkw)
axe.text(665, 0.535, 'C$_4$H$_6$', **tkw)
axe.text(1504, 0.416, 'C$_3$H$_4$', **tkw)

# ---- f ----
axf = add_ax(931, 373, 1272, 648)
gas_names = ['C$_3$H$_4$ (PD)', 'C$_2$H$_2$', 'C$_3$H$_4$']
df = pd.DataFrame({
    'Cycle': cycles * 3,
    'Time': bt_C3H4PD + bt_C2H2 + bt_C3H4,
    'Gas': [gas_names[0]] * 5 + [gas_names[1]] * 5 + [gas_names[2]] * 5,
})
sns.barplot(data=df, x='Cycle', y='Time', hue='Gas', hue_order=gas_names,
            palette=['#a8a8a8', '#141414', '#7aa3c6'], width=0.8, saturation=1,
            errorbar=None, ax=axf, linewidth=0)
axf.set_xlim(-0.5, 4.5)
axf.set_ylim(0, 400)
axf.yaxis.set_major_locator(MultipleLocator(80))
axf.yaxis.set_minor_locator(MultipleLocator(40))
axf.tick_params(which='both', direction='out', top=False, right=False, labelsize=11, width=1)
axf.tick_params(which='major', length=4, pad=2)
axf.tick_params(which='minor', length=2.5)
for s in axf.spines.values():
    s.set_visible(True)
    s.set_linewidth(1.1)
axf.set_xlabel('Cycles', fontsize=12.5, labelpad=1)
axf.set_ylabel('Breakthrough time (min)', fontsize=12.5, labelpad=3)
h, l = axf.get_legend_handles_labels()
axf.legend(h, l, loc='upper center', bbox_to_anchor=(0.5, 1.01), ncol=3, frameon=False,
           fontsize=11, handlelength=2.0, handleheight=1.0, columnspacing=1.2, handletextpad=0.3)

# ---- panel letters ----
for lt, x, y in [('a', 13, 28), ('b', 444, 28), ('c', 876, 28), ('d', 13, 373), ('e', 443, 373), ('f', 876, 375)]:
    fig.text(x / W, 1 - y / H, lt, fontsize=18, fontweight='bold', va='baseline', ha='left')

# ---- bottom legend ----
handles = [Line2D([0], [0], color=colors[g], marker=markers[g], markersize=msizes[g] + 2.5,
                  markeredgewidth=0, linewidth=1.8) for g in gases]
fig.legend(handles, [labels[g] for g in gases], loc='center', bbox_to_anchor=(653 / W, 1 - 720 / H),
           ncol=11, frameon=False, fontsize=11, handlelength=2.0, columnspacing=2.0, handletextpad=0.3)

fig.savefig('out.png', dpi=100)
